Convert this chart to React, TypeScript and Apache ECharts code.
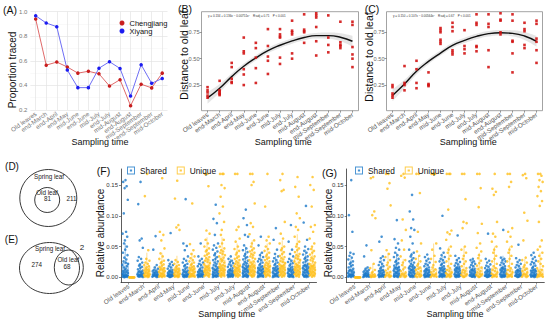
import React, { useEffect, useRef } from 'react';
import * as echarts from 'echarts';

const CATEGORIES = ['Old leaves', 'end-March', 'end-April', 'end-May', 'mid-June', 'end-June', 'mid-July', 'end-July', 'mid-August', 'end-August', 'mid-September', 'end-September', 'mid-October'];

// Panel A
const CHENGJIANG = [0.94, 0.565, 0.59, 0.55, 0.5, 0.515, 0.495, 0.395, 0.447, 0.235, 0.41, 0.38, 0.5];
const XIYANG = [0.967, 0.908, 0.878, 0.525, 0.382, 0.382, 0.54, 0.593, 0.538, 0.314, 0.569, 0.417, 0.457];

// Panel B
const DIST_B = [
  [0.23, 0.2, 0.18, 0.15, 0.13],
  [0.29, 0.2, 0.19, 0.175, 0.165, 0.155],
  [0.46, 0.42, 0.31, 0.28, 0.27],
  [0.7, 0.57, 0.55, 0.4, 0.35, 0.25],
  [0.65, 0.6, 0.51, 0.41, 0.27],
  [0.78, 0.62, 0.52, 0.48, 0.355],
  [0.78, 0.73, 0.71, 0.7, 0.51, 0.45],
  [0.86, 0.765, 0.75, 0.73, 0.55, 0.5],
  [0.92, 0.775, 0.76, 0.75, 0.65],
  [0.93, 0.91, 0.89, 0.8, 0.665, 0.53],
  [0.91, 0.7, 0.63, 0.56],
  [0.85, 0.655, 0.63, 0.62, 0.6],
  [0.85, 0.82, 0.61, 0.54, 0.5, 0.42],
];
const FIT_B = [0.128, 0.22, 0.33, 0.428, 0.507, 0.576, 0.627, 0.668, 0.7, 0.718, 0.718, 0.703, 0.665];
const BAND_B = [0.055, 0.04, 0.03, 0.026, 0.024, 0.024, 0.025, 0.026, 0.026, 0.026, 0.029, 0.037, 0.05];

// Panel C
const DIST_C = [
  [0.25, 0.23, 0.17, 0.15, 0.13],
  [0.43, 0.27, 0.25, 0.2],
  [0.48, 0.4, 0.27, 0.22],
  [0.37, 0.26, 0.25, 0.24],
  [0.79, 0.77, 0.75, 0.68, 0.66, 0.64],
  [0.84, 0.8, 0.76, 0.58, 0.56, 0.54],
  [0.77, 0.62, 0.59, 0.55],
  [0.92, 0.84, 0.82, 0.62, 0.61, 0.57],
  [0.92, 0.83, 0.8, 0.58, 0.42],
  [0.93, 0.87, 0.86, 0.75, 0.73],
  [0.92, 0.86, 0.67, 0.66, 0.55, 0.37],
  [0.84, 0.78, 0.76, 0.63, 0.6],
  [0.86, 0.83, 0.69, 0.66, 0.58, 0.46],
];
const FIT_C = [0.152, 0.26, 0.38, 0.474, 0.553, 0.626, 0.673, 0.711, 0.737, 0.746, 0.74, 0.715, 0.664];
const BAND_C = [0.055, 0.04, 0.03, 0.026, 0.024, 0.024, 0.025, 0.026, 0.026, 0.026, 0.029, 0.037, 0.05];

// Venn counts
const VENN_D = [81, 211];
const VENN_E = [274, 68, 2];

// Panel F points
const SHARED_F = [
  [0.158, 0.155, 0.148, 0.145, 0.126, 0.104, 0.074, 0.071, 0.066, 0.06, 0.055, 0.05, 0.045, 0.04, 0.036, 0.032, 0.029, 0.026, 0.024, 0.022, 0.02, 0.018, 0.016, 0.014, 0.012, 0.011, 0.01, 0.009, 0.008, 0.007, 0.006, 0.005, 0.004, 0.0035, 0.003, 0.0025, 0.002, 0.0015, 0.001, 0.0008, 0.0005, 0.0003],
  [0.155, 0.119, 0.063, 0.06, 0.048, 0.033, 0.03, 0.027, 0.024, 0.021, 0.019, 0.017, 0.015, 0.013, 0.011, 0.01, 0.009, 0.008, 0.007, 0.006, 0.005, 0.0045, 0.004, 0.0035, 0.003, 0.0025, 0.002, 0.0015, 0.001, 0.0005],
  [0.067, 0.045, 0.02, 0.016, 0.014, 0.012, 0.011, 0.01, 0.009, 0.008, 0.007, 0.006, 0.005, 0.0045, 0.004, 0.0035, 0.003, 0.0025, 0.002, 0.0015, 0.001, 0.0005],
  [0.072, 0.028, 0.025, 0.022, 0.02, 0.018, 0.016, 0.014, 0.012, 0.011, 0.01, 0.009, 0.008, 0.007, 0.006, 0.005, 0.0045, 0.004, 0.0035, 0.003, 0.0025, 0.002, 0.0015, 0.001, 0.0005],
  [0.127, 0.055, 0.051, 0.044, 0.034, 0.03, 0.027, 0.024, 0.022, 0.02, 0.018, 0.016, 0.014, 0.012, 0.011, 0.01, 0.009, 0.008, 0.007, 0.006, 0.005, 0.004, 0.0035, 0.003, 0.0025, 0.002, 0.0015, 0.001, 0.0005],
  [0.055, 0.034, 0.03, 0.027, 0.024, 0.022, 0.02, 0.018, 0.016, 0.014, 0.012, 0.011, 0.01, 0.009, 0.008, 0.007, 0.006, 0.005, 0.0045, 0.004, 0.0035, 0.003, 0.0025, 0.002, 0.0015, 0.001, 0.0005],
  [0.118, 0.095, 0.088, 0.069, 0.055, 0.052, 0.048, 0.045, 0.042, 0.039, 0.036, 0.033, 0.03, 0.028, 0.026, 0.024, 0.022, 0.02, 0.018, 0.016, 0.015, 0.014, 0.013, 0.012, 0.011, 0.01, 0.009, 0.008, 0.007, 0.006, 0.005, 0.004, 0.0035, 0.003, 0.0025, 0.002, 0.0015, 0.001, 0.0005],
  [0.034, 0.03, 0.027, 0.025, 0.023, 0.021, 0.019, 0.017, 0.015, 0.013, 0.012, 0.011, 0.01, 0.009, 0.008, 0.007, 0.006, 0.005, 0.0045, 0.004, 0.0035, 0.003, 0.0025, 0.002, 0.0015, 0.001, 0.0005],
  [0.11, 0.096, 0.085, 0.069, 0.066, 0.052, 0.047, 0.044, 0.041, 0.038, 0.035, 0.033, 0.031, 0.029, 0.027, 0.025, 0.023, 0.021, 0.019, 0.018, 0.017, 0.016, 0.015, 0.014, 0.013, 0.012, 0.011, 0.01, 0.009, 0.008, 0.007, 0.006, 0.005, 0.004, 0.003, 0.0025, 0.002, 0.0015, 0.001, 0.0005],
  [0.066, 0.052, 0.04, 0.036, 0.033, 0.03, 0.028, 0.026, 0.024, 0.022, 0.02, 0.018, 0.016, 0.015, 0.014, 0.013, 0.012, 0.011, 0.01, 0.009, 0.008, 0.007, 0.006, 0.005, 0.004, 0.003, 0.0025, 0.002, 0.0015, 0.001, 0.0005],
  [0.08, 0.061, 0.045, 0.038, 0.034, 0.031, 0.028, 0.026, 0.024, 0.022, 0.02, 0.018, 0.016, 0.015, 0.014, 0.013, 0.012, 0.011, 0.01, 0.009, 0.008, 0.007, 0.006, 0.005, 0.004, 0.003, 0.0025, 0.002, 0.0015, 0.001, 0.0005],
  [0.085, 0.058, 0.045, 0.038, 0.034, 0.03, 0.027, 0.025, 0.023, 0.021, 0.019, 0.017, 0.015, 0.014, 0.013, 0.012, 0.011, 0.01, 0.009, 0.008, 0.007, 0.006, 0.005, 0.004, 0.003, 0.0025, 0.002, 0.0015, 0.001, 0.0005],
  [0.116, 0.089, 0.061, 0.05, 0.046, 0.043, 0.04, 0.037, 0.034, 0.032, 0.03, 0.028, 0.026, 0.024, 0.022, 0.02, 0.019, 0.018, 0.017, 0.016, 0.015, 0.014, 0.013, 0.012, 0.011, 0.01, 0.009, 0.008, 0.007, 0.006, 0.005, 0.004, 0.003, 0.0025, 0.002, 0.0015, 0.001, 0.0005],
];
const UNIQUE_F = [
  [0, 0, 0, 0, 0, 0, 0, 0, 0, 0],
  [0.168, 0.132, 0.044, 0.03, 0.027, 0.024, 0.022, 0.02, 0.018, 0.016, 0.014, 0.013, 0.012, 0.011, 0.01, 0.009, 0.008, 0.007, 0.006, 0.005, 0.004, 0.0035, 0.003, 0.0025, 0.002, 0.0015, 0.001, 0.0005],
  [0.161, 0.074, 0.069, 0.06, 0.047, 0.039, 0.034, 0.03, 0.027, 0.025, 0.023, 0.021, 0.019, 0.017, 0.015, 0.014, 0.013, 0.012, 0.011, 0.01, 0.009, 0.008, 0.007, 0.006, 0.005, 0.004, 0.003, 0.0025, 0.002, 0.0015, 0.001, 0.0005],
  [0.157, 0.128, 0.085, 0.081, 0.077, 0.028, 0.025, 0.022, 0.02, 0.018, 0.016, 0.014, 0.013, 0.012, 0.011, 0.01, 0.009, 0.008, 0.007, 0.006, 0.005, 0.004, 0.003, 0.0025, 0.002, 0.0015, 0.001, 0.0005],
  [0.12, 0.054, 0.044, 0.038, 0.034, 0.031, 0.028, 0.026, 0.024, 0.022, 0.02, 0.018, 0.016, 0.015, 0.014, 0.013, 0.012, 0.011, 0.01, 0.009, 0.008, 0.007, 0.006, 0.005, 0.004, 0.003, 0.0025, 0.002, 0.0015, 0.001, 0.0005],
  [0.168, 0.168, 0.148, 0.076, 0.071, 0.061, 0.055, 0.05, 0.047, 0.044, 0.042, 0.039, 0.037, 0.035, 0.033, 0.031, 0.029, 0.027, 0.025, 0.023, 0.021, 0.019, 0.018, 0.017, 0.016, 0.015, 0.014, 0.013, 0.012, 0.011, 0.01, 0.009, 0.008, 0.007, 0.006, 0.005, 0.004, 0.003, 0.002, 0.001],
  [0.168, 0.168, 0.168, 0.15, 0.145, 0.131, 0.115, 0.104, 0.09, 0.077, 0.069, 0.061, 0.055, 0.05, 0.047, 0.044, 0.042, 0.04, 0.038, 0.036, 0.034, 0.032, 0.03, 0.028, 0.026, 0.024, 0.022, 0.02, 0.019, 0.018, 0.017, 0.016, 0.015, 0.014, 0.013, 0.012, 0.011, 0.01, 0.009, 0.008, 0.007, 0.006, 0.005, 0.004, 0.003, 0.002, 0.001],
  [0.168, 0.168, 0.082, 0.077, 0.063, 0.058, 0.05, 0.046, 0.043, 0.04, 0.037, 0.034, 0.032, 0.03, 0.028, 0.026, 0.024, 0.022, 0.02, 0.019, 0.018, 0.017, 0.016, 0.015, 0.014, 0.013, 0.012, 0.011, 0.01, 0.009, 0.008, 0.007, 0.006, 0.005, 0.004, 0.003, 0.002, 0.001],
  [0.168, 0.168, 0.155, 0.15, 0.12, 0.088, 0.082, 0.07, 0.06, 0.055, 0.05, 0.047, 0.044, 0.042, 0.04, 0.038, 0.036, 0.034, 0.032, 0.03, 0.028, 0.026, 0.024, 0.022, 0.02, 0.019, 0.018, 0.017, 0.016, 0.015, 0.014, 0.013, 0.012, 0.011, 0.01, 0.009, 0.008, 0.007, 0.006, 0.005, 0.004, 0.003, 0.002, 0.001],
  [0.168, 0.115, 0.066, 0.06, 0.055, 0.05, 0.046, 0.043, 0.04, 0.037, 0.034, 0.032, 0.03, 0.028, 0.026, 0.024, 0.022, 0.02, 0.019, 0.018, 0.017, 0.016, 0.015, 0.014, 0.013, 0.012, 0.011, 0.01, 0.009, 0.008, 0.007, 0.006, 0.005, 0.004, 0.003, 0.002, 0.001],
  [0.168, 0.158, 0.142, 0.14, 0.09, 0.071, 0.063, 0.055, 0.05, 0.047, 0.044, 0.041, 0.038, 0.035, 0.033, 0.031, 0.029, 0.027, 0.025, 0.023, 0.021, 0.02, 0.019, 0.018, 0.017, 0.016, 0.015, 0.014, 0.013, 0.012, 0.011, 0.01, 0.009, 0.008, 0.007, 0.006, 0.005, 0.004, 0.003, 0.002, 0.001],
  [0.163, 0.147, 0.131, 0.104, 0.096, 0.082, 0.077, 0.066, 0.058, 0.054, 0.05, 0.047, 0.044, 0.041, 0.038, 0.036, 0.034, 0.032, 0.03, 0.028, 0.026, 0.024, 0.022, 0.02, 0.019, 0.018, 0.017, 0.016, 0.015, 0.014, 0.013, 0.012, 0.011, 0.01, 0.009, 0.008, 0.007, 0.006, 0.005, 0.004, 0.003, 0.002, 0.001],
  [0.163, 0.15, 0.142, 0.115, 0.085, 0.082, 0.074, 0.063, 0.055, 0.05, 0.046, 0.043, 0.04, 0.037, 0.034, 0.032, 0.03, 0.028, 0.026, 0.024, 0.022, 0.02, 0.019, 0.018, 0.017, 0.016, 0.015, 0.014, 0.013, 0.012, 0.011, 0.01, 0.009, 0.008, 0.007, 0.006, 0.005, 0.004, 0.003, 0.002, 0.001],
];

// Panel F boxes: [lower whisker, Q1, median, Q3, upper whisker]
const BOX_SHARED_F = [
  [0, 0.002, 0.007, 0.023, 0.055], [0, 0.001, 0.004, 0.009, 0.022], [0, 0.001, 0.003, 0.008, 0.018],
  [0, 0.001, 0.004, 0.009, 0.022], [0, 0.001, 0.004, 0.009, 0.022], [0, 0.001, 0.004, 0.01, 0.024],
  [0, 0.002, 0.007, 0.017, 0.04], [0, 0.001, 0.005, 0.012, 0.03], [0, 0.002, 0.009, 0.022, 0.05],
  [0, 0.002, 0.007, 0.017, 0.04], [0, 0.002, 0.006, 0.015, 0.035], [0, 0.001, 0.005, 0.013, 0.03],
  [0, 0.002, 0.008, 0.02, 0.045],
];
const BOX_UNIQUE_F = [
  [0, 0, 0, 0, 0], [0, 0.002, 0.006, 0.017, 0.04], [0, 0.002, 0.006, 0.016, 0.04],
  [0, 0.002, 0.005, 0.015, 0.035], [0, 0.002, 0.006, 0.017, 0.04], [0, 0.003, 0.011, 0.028, 0.065],
  [0, 0.003, 0.011, 0.028, 0.065], [0, 0.003, 0.009, 0.023, 0.055], [0, 0.003, 0.01, 0.025, 0.06],
  [0, 0.003, 0.009, 0.023, 0.055], [0, 0.003, 0.01, 0.025, 0.06], [0, 0.004, 0.012, 0.03, 0.07],
  [0, 0.003, 0.009, 0.022, 0.05],
];

// Panel G points
const SHARED_G = [
  [0.158, 0.101, 0.074, 0.04, 0.038, 0.035, 0.032, 0.029, 0.026, 0.024, 0.022, 0.02, 0.018, 0.016, 0.014, 0.012, 0.011, 0.01, 0.009, 0.008, 0.007, 0.006, 0.005, 0.0045, 0.004, 0.0035, 0.003, 0.0025, 0.002, 0.0015, 0.001, 0.0005],
  [0.052, 0.034, 0.016, 0.014, 0.012, 0.011, 0.01, 0.009, 0.008, 0.007, 0.006, 0.005, 0.0045, 0.004, 0.0035, 0.003, 0.0025, 0.002, 0.0015, 0.001, 0.0005],
  [0.066, 0.058, 0.034, 0.031, 0.028, 0.025, 0.022, 0.02, 0.018, 0.016, 0.014, 0.012, 0.011, 0.01, 0.009, 0.008, 0.007, 0.006, 0.005, 0.004, 0.0035, 0.003, 0.0025, 0.002, 0.0015, 0.001, 0.0005],
  [0.093, 0.062, 0.055, 0.048, 0.045, 0.04, 0.036, 0.033, 0.03, 0.027, 0.025, 0.023, 0.021, 0.019, 0.017, 0.016, 0.015, 0.014, 0.013, 0.012, 0.011, 0.01, 0.009, 0.008, 0.007, 0.006, 0.005, 0.004, 0.003, 0.0025, 0.002, 0.0015, 0.001, 0.0005],
  [0.134, 0.107, 0.094, 0.08, 0.077, 0.066, 0.055, 0.045, 0.04, 0.037, 0.034, 0.031, 0.028, 0.026, 0.024, 0.022, 0.02, 0.018, 0.017, 0.016, 0.015, 0.014, 0.013, 0.012, 0.011, 0.01, 0.009, 0.008, 0.007, 0.006, 0.005, 0.004, 0.003, 0.0025, 0.002, 0.0015, 0.001, 0.0005],
  [0.037, 0.033, 0.03, 0.027, 0.024, 0.022, 0.02, 0.018, 0.016, 0.014, 0.013, 0.012, 0.011, 0.01, 0.009, 0.008, 0.007, 0.006, 0.005, 0.004, 0.0035, 0.003, 0.0025, 0.002, 0.0015, 0.001, 0.0005],
  [0.1, 0.047, 0.04, 0.036, 0.033, 0.03, 0.028, 0.026, 0.024, 0.022, 0.02, 0.018, 0.016, 0.015, 0.014, 0.013, 0.012, 0.011, 0.01, 0.009, 0.008, 0.007, 0.006, 0.005, 0.004, 0.0035, 0.003, 0.0025, 0.002, 0.0015, 0.001, 0.0005],
  [0.068, 0.035, 0.031, 0.028, 0.025, 0.023, 0.021, 0.019, 0.017, 0.016, 0.015, 0.014, 0.013, 0.012, 0.011, 0.01, 0.009, 0.008, 0.007, 0.006, 0.005, 0.004, 0.0035, 0.003, 0.0025, 0.002, 0.0015, 0.001, 0.0005],
  [0.03, 0.028, 0.026, 0.024, 0.022, 0.02, 0.018, 0.016, 0.014, 0.013, 0.012, 0.011, 0.01, 0.009, 0.008, 0.007, 0.006, 0.005, 0.004, 0.0035, 0.003, 0.0025, 0.002, 0.0015, 0.001, 0.0005],
  [0.071, 0.03, 0.027, 0.024, 0.021, 0.019, 0.017, 0.015, 0.013, 0.012, 0.011, 0.01, 0.009, 0.008, 0.007, 0.006, 0.005, 0.004, 0.0035, 0.003, 0.0025, 0.002, 0.0015, 0.001, 0.0005],
  [0.077, 0.032, 0.03, 0.028, 0.026, 0.024, 0.022, 0.02, 0.018, 0.016, 0.015, 0.014, 0.013, 0.012, 0.011, 0.01, 0.009, 0.008, 0.007, 0.006, 0.005, 0.004, 0.0035, 0.003, 0.0025, 0.002, 0.0015, 0.001, 0.0005],
  [0.053, 0.031, 0.028, 0.025, 0.022, 0.02, 0.018, 0.016, 0.014, 0.012, 0.011, 0.01, 0.009, 0.008, 0.007, 0.006, 0.005, 0.004, 0.0035, 0.003, 0.0025, 0.002, 0.0015, 0.001, 0.0005],
  [0.04, 0.036, 0.033, 0.03, 0.027, 0.025, 0.023, 0.021, 0.019, 0.017, 0.015, 0.013, 0.012, 0.011, 0.01, 0.009, 0.008, 0.007, 0.006, 0.005, 0.004, 0.0035, 0.003, 0.0025, 0.002, 0.0015, 0.001, 0.0005],
];
const UNIQUE_G = [
  [0, 0, 0, 0, 0, 0, 0, 0, 0, 0],
  [0.163, 0.161, 0.107, 0.101, 0.096, 0.044, 0.022, 0.015, 0.012, 0.009, 0.007, 0.005, 0.004, 0.003, 0.002, 0.0015, 0.001, 0.0005],
  [0.168, 0.168, 0.153, 0.144, 0.117, 0.044, 0.038, 0.033, 0.028, 0.024, 0.02, 0.017, 0.014, 0.011, 0.009, 0.007, 0.005, 0.004, 0.003, 0.002, 0.001, 0.0005],
  [0.168, 0.165, 0.162, 0.094, 0.077, 0.06, 0.045, 0.034, 0.028, 0.024, 0.02, 0.016, 0.013, 0.01, 0.008, 0.006, 0.005, 0.004, 0.003, 0.002, 0.001, 0.0005],
  [0.168, 0.168, 0.137, 0.074, 0.055, 0.042, 0.035, 0.03, 0.026, 0.022, 0.019, 0.016, 0.014, 0.012, 0.01, 0.008, 0.006, 0.005, 0.004, 0.003, 0.002, 0.001, 0.0005],
  [0.168, 0.168, 0.168, 0.168, 0.055, 0.045, 0.035, 0.03, 0.025, 0.02, 0.016, 0.013, 0.01, 0.008, 0.006, 0.005, 0.004, 0.003, 0.002, 0.001, 0.0005],
  [0.168, 0.168, 0.168, 0.11, 0.076, 0.073, 0.07, 0.061, 0.05, 0.045, 0.04, 0.035, 0.03, 0.026, 0.022, 0.018, 0.015, 0.012, 0.01, 0.008, 0.007, 0.006, 0.005, 0.004, 0.003, 0.002, 0.001, 0.0005],
  [0.168, 0.168, 0.127, 0.09, 0.088, 0.08, 0.05, 0.045, 0.04, 0.035, 0.03, 0.026, 0.022, 0.018, 0.015, 0.012, 0.01, 0.008, 0.007, 0.005, 0.004, 0.003, 0.002, 0.001, 0.0005],
  [0.168, 0.168, 0.145, 0.114, 0.087, 0.072, 0.055, 0.048, 0.042, 0.036, 0.031, 0.027, 0.023, 0.019, 0.016, 0.013, 0.01, 0.008, 0.006, 0.005, 0.004, 0.003, 0.002, 0.001, 0.0005],
  [0.168, 0.144, 0.139, 0.134, 0.09, 0.071, 0.066, 0.058, 0.05, 0.045, 0.04, 0.035, 0.03, 0.026, 0.022, 0.018, 0.015, 0.012, 0.01, 0.008, 0.006, 0.005, 0.004, 0.003, 0.002, 0.001, 0.0005],
  [0.168, 0.168, 0.155, 0.147, 0.08, 0.074, 0.066, 0.058, 0.05, 0.045, 0.04, 0.035, 0.03, 0.026, 0.022, 0.018, 0.015, 0.012, 0.01, 0.008, 0.006, 0.005, 0.004, 0.003, 0.002, 0.001, 0.0005],
  [0.168, 0.166, 0.161, 0.105, 0.092, 0.06, 0.032, 0.028, 0.024, 0.02, 0.017, 0.014, 0.012, 0.01, 0.008, 0.006, 0.005, 0.004, 0.003, 0.002, 0.001, 0.0005],
  [0.168, 0.168, 0.165, 0.158, 0.155, 0.147, 0.14, 0.132, 0.124, 0.116, 0.09, 0.06, 0.05, 0.045, 0.04, 0.035, 0.03, 0.026, 0.022, 0.018, 0.015, 0.012, 0.01, 0.008, 0.006, 0.005, 0.004, 0.003, 0.002, 0.001, 0.0005],
];

// Panel G boxes: [lower whisker, Q1, median, Q3, upper whisker]
const BOX_SHARED_G = [
  [0, 0.001, 0.004, 0.012, 0.03], [0, 0.0005, 0.002, 0.0065, 0.016], [0, 0.001, 0.004, 0.011, 0.028],
  [0, 0.002, 0.006, 0.016, 0.04], [0, 0.002, 0.007, 0.018, 0.04], [0, 0.001, 0.004, 0.012, 0.028],
  [0, 0.001, 0.005, 0.015, 0.035], [0, 0.001, 0.005, 0.015, 0.03], [0, 0.001, 0.004, 0.012, 0.028],
  [0, 0.001, 0.003, 0.009, 0.02], [0, 0.001, 0.005, 0.015, 0.035], [0, 0.001, 0.004, 0.011, 0.025],
  [0, 0.001, 0.004, 0.011, 0.025],
];
const BOX_UNIQUE_G = [
  [0, 0, 0, 0, 0], [0, 0.0005, 0.0015, 0.004, 0.022], [0, 0.001, 0.003, 0.008, 0.04],
  [0, 0.0005, 0.002, 0.0065, 0.03], [0, 0.001, 0.005, 0.015, 0.035], [0, 0.001, 0.004, 0.013, 0.055],
  [0, 0.001, 0.004, 0.013, 0.05], [0, 0.001, 0.004, 0.012, 0.05], [0, 0.001, 0.005, 0.015, 0.04],
  [0, 0.001, 0.005, 0.015, 0.05], [0, 0.001, 0.004, 0.013, 0.05], [0, 0.001, 0.005, 0.015, 0.03],
  [0, 0.001, 0.004, 0.013, 0.04],
];

// fixed (non-random) jitter pattern, in units of half jitter width
const JITTER = [0.1, -0.7, 0.5, -0.2, 0.9, -0.5, 0.3, -0.9, 0.7, -0.1, -0.4, 0.6, 0.0, -0.8, 0.8, -0.3, 0.4, -0.6, 0.2, 1.0, -1.0, 0.55, -0.45, 0.15, -0.15, 0.75, -0.75, 0.35, -0.35, 0.95, -0.95];
const JIT_AMP = 0.19;
const DODGE = 0.22;

const FONT = '"Liberation Sans", Arial, Helvetica, sans-serif';
const RED_PT = '#d21414';
const BLUE_SH = '#1a78c8';
const YEL_UN = '#ffbf1a';

function jitterData(groups: number[][], offset: number) {
  const out: number[][] = [];
  groups.forEach((vals, k) => vals.forEach((v, i) => out.push([k + offset + JITTER[i % JITTER.length] * JIT_AMP, v])));
  return out;
}
function boxData(stats: number[][], offset: number) {
  return stats.map((s, k) => [k + offset, ...s]);
}
function catScatter(groups: number[][]) {
  const out: number[][] = [];
  groups.forEach((vals, k) => vals.forEach((v) => out.push([k, v])));
  return out;
}

const LEGEND_ICON = 'path://M0,0H10V10H0Z M1.2,1.2V8.8H8.8V1.2Z M3.6,3.6H6.4V6.4H3.6Z';

function boxSeries(name: string, data: number[][], xi: number, yi: number, stroke: string, fill: string) {
  return {
    type: 'custom',
    name,
    xAxisIndex: xi,
    yAxisIndex: yi,
    data,
    z: 1,
    itemStyle: { color: stroke },
    encode: { x: 0, y: [1, 2, 3, 4, 5] },
    renderItem: (params: any, api: any) => {
      const x = api.value(0);
      const lo = api.coord([x, api.value(1)]);
      const q1 = api.coord([x, api.value(2)]);
      const md = api.coord([x, api.value(3)]);
      const q3 = api.coord([x, api.value(4)]);
      const hi = api.coord([x, api.value(5)]);
      const w = 6;
      const ls = { stroke, lineWidth: 0.7 };
      return {
        type: 'group',
        children: [
          { type: 'line', shape: { x1: hi[0], y1: hi[1], x2: q3[0], y2: q3[1] }, style: ls },
          { type: 'line', shape: { x1: lo[0], y1: lo[1], x2: q1[0], y2: q1[1] }, style: ls },
          { type: 'rect', shape: { x: q3[0] - w / 2, y: q3[1], width: w, height: Math.max(q1[1] - q3[1], 0.5) }, style: { fill, stroke, lineWidth: 0.7 } },
          { type: 'line', shape: { x1: md[0] - w / 2, y1: md[1], x2: md[0] + w / 2, y2: md[1] }, style: ls },
        ],
      };
    },
  };
}

function bandSeries(fit: number[], band: number[], xi: number, yi: number, stack: string) {
  return [
    {
      type: 'line', xAxisIndex: xi, yAxisIndex: yi, stack, data: fit.map((v, i) => v - band[i]),
      symbol: 'none', smooth: true, lineStyle: { opacity: 0 }, silent: true, z: 1,
    },
    {
      type: 'line', xAxisIndex: xi, yAxisIndex: yi, stack, data: band.map((b) => 2 * b),
      symbol: 'none', smooth: true, lineStyle: { opacity: 0 }, areaStyle: { color: 'rgba(150,150,150,0.35)' }, silent: true, z: 1,
    },
    {
      type: 'line', xAxisIndex: xi, yAxisIndex: yi, data: fit, symbol: 'none', smooth: true,
      lineStyle: { color: '#111', width: 1.4 }, z: 3,
    },
  ];
}

function catAxis(gridIndex: number, color: string, axisLineShow: boolean) {
  return {
    type: 'category', gridIndex, data: CATEGORIES, boundaryGap: true,
    axisLine: { show: axisLineShow, onZero: false, lineStyle: { color: '#333', width: 0.8 } },
    axisTick: { show: true, alignWithLabel: true, length: 2, lineStyle: { color: '#555', width: 0.6 } },
    axisLabel: { interval: 0, rotate: 35, fontSize: 6.3, color, margin: 3, fontFamily: FONT },
    splitLine: { show: false },
  };
}

function textEl(text: string, x: number, y: number, fontSize: number, opts: any = {}) {
  return {
    type: 'text', x, y, rotation: opts.rotation || 0, silent: true,
    style: {
      text, fontSize, fontFamily: FONT, fill: opts.fill || '#111',
      align: opts.align || 'center', verticalAlign: opts.verticalAlign || 'middle',
    },
  };
}

function smallValAxis(gridIndex: number) {
  return {
    type: 'value', gridIndex, min: 0.007, max: 0.945,
    axisLine: { show: false, onZero: false },
    splitLine: { show: false },
    axisTick: { show: true, length: 2, customValues: [0.25, 0.5, 0.75], lineStyle: { color: '#555', width: 0.6 } },
    axisLabel: { customValues: [0.25, 0.5, 0.75], fontSize: 5.6, color: '#666', margin: 2, formatter: (v: number) => v.toFixed(2) },
  };
}
function abundAxis(gridIndex: number) {
  return {
    type: 'value', gridIndex, min: -0.0084, max: 0.176,
    axisLine: { show: true, onZero: false, lineStyle: { color: '#333', width: 0.8 } },
    splitLine: { show: false },
    axisTick: { show: true, length: 2, customValues: [0, 0.05, 0.1, 0.15], lineStyle: { color: '#333', width: 0.6 } },
    axisLabel: { customValues: [0, 0.05, 0.1, 0.15], fontSize: 6, color: '#333', margin: 3, formatter: (v: number) => v.toFixed(2) },
  };
}

export default function App() {
  const ref = useRef<HTMLDivElement>(null);
  useEffect(() => {
    if (!ref.current) return;
    const chart = echarts.init(ref.current, null, { renderer: 'svg' });
    const option: any = {
      animation: false,
      backgroundColor: '#fff',
      textStyle: { fontFamily: FONT },
      grid: [
        { left: 30.4, top: 11.7, width: 137.1, height: 98.3 },
        { left: 201.5, top: 11.7, width: 157, height: 99, show: true, borderColor: '#8c8c8c', borderWidth: 0.8, backgroundColor: 'transparent' },
        { left: 386.5, top: 11.7, width: 156, height: 99, show: true, borderColor: '#8c8c8c', borderWidth: 0.8, backgroundColor: 'transparent' },
        { left: 121, top: 169, width: 195.5, height: 113.5 },
        { left: 346.7, top: 169, width: 197.6, height: 113.5 },
      ],
      legend: [
        {
          left: 114.5, top: 14, orient: 'vertical', itemWidth: 5, itemHeight: 5, itemGap: 0, icon: 'circle',
          selectedMode: false, data: ['Chengjiang', 'Xiyang'],
          textStyle: { fontSize: 7.5, color: '#111', fontFamily: FONT },
        },
        {
          left: 122, top: 161.5, itemWidth: 8, itemHeight: 8, itemGap: 10, icon: LEGEND_ICON,
          selectedMode: false, data: ['Shared', 'Unique'],
          textStyle: { fontSize: 8.3, color: '#111', fontFamily: FONT },
        },
        {
          left: 350, top: 161.5, itemWidth: 8, itemHeight: 8, itemGap: 10, icon: LEGEND_ICON,
          selectedMode: false, data: ['Shared', 'Unique'],
          textStyle: { fontSize: 8.3, color: '#111', fontFamily: FONT },
        },
      ],
      xAxis: [
        { ...catAxis(0, '#777', false), axisTick: { show: false } },
        {
          type: 'value', gridIndex: 0, min: 0, max: 13, interval: 1,
          axisLine: { show: false }, axisTick: { show: false }, axisLabel: { show: false },
          splitLine: { show: false },
          minorTick: { show: false, splitNumber: 2 },
          minorSplitLine: { show: true, lineStyle: { color: '#e4e4e4', width: 0.7 } },
        },
        catAxis(1, '#555', false),
        catAxis(2, '#555', false),
        catAxis(3, '#555', true),
        { type: 'value', gridIndex: 3, min: -0.5, max: 12.5, show: false },
        catAxis(4, '#555', true),
        { type: 'value', gridIndex: 4, min: -0.5, max: 12.5, show: false },
      ],
      yAxis: [
        {
          type: 'value', gridIndex: 0, min: 0.2, max: 1.0, interval: 0.2,
          axisLine: { show: false }, axisTick: { show: false },
          axisLabel: { fontSize: 6, color: '#777', margin: 3, formatter: (v: number) => v.toFixed(1) },
          splitLine: { show: true, lineStyle: { color: '#e4e4e4', width: 0.7 } },
          minorTick: { show: false, splitNumber: 2 },
          minorSplitLine: { show: true, lineStyle: { color: '#f2f2f2', width: 0.5 } },
        },
        smallValAxis(1),
        smallValAxis(2),
        abundAxis(3),
        abundAxis(4),
      ],
      series: [
        // A
        {
          type: 'line', name: 'Chengjiang', xAxisIndex: 0, yAxisIndex: 0, data: CHENGJIANG,
          symbol: 'circle', symbolSize: 3.5, itemStyle: { color: '#c81e1e' }, lineStyle: { color: '#e06a6a', width: 1 }, z: 3,
        },
        {
          type: 'line', name: 'Xiyang', xAxisIndex: 0, yAxisIndex: 0, data: XIYANG,
          symbol: 'circle', symbolSize: 3.5, itemStyle: { color: '#1c1cf0' }, lineStyle: { color: '#6f6ff5', width: 1 }, z: 3,
        },
        // B
        ...bandSeries(FIT_B, BAND_B, 2, 1, 'bandB'),
        {
          type: 'scatter', xAxisIndex: 2, yAxisIndex: 1, data: catScatter(DIST_B), symbol: 'rect', symbolSize: 2.6,
          itemStyle: { color: RED_PT, opacity: 0.9 }, z: 4,
        },
        // C
        ...bandSeries(FIT_C, BAND_C, 3, 2, 'bandC'),
        {
          type: 'scatter', xAxisIndex: 3, yAxisIndex: 2, data: catScatter(DIST_C), symbol: 'rect', symbolSize: 2.6,
          itemStyle: { color: RED_PT, opacity: 0.9 }, z: 4,
        },
        // F
        {
          type: 'scatter', name: 'Shared', xAxisIndex: 5, yAxisIndex: 3, data: jitterData(SHARED_F, -DODGE),
          symbolSize: 2.6, itemStyle: { color: BLUE_SH }, z: 3,
        },
        {
          type: 'scatter', name: 'Unique', xAxisIndex: 5, yAxisIndex: 3, data: jitterData(UNIQUE_F, DODGE),
          symbolSize: 2.6, itemStyle: { color: YEL_UN }, z: 3,
        },
        boxSeries('Shared', boxData(BOX_SHARED_F, -DODGE), 5, 3, '#5aa2de', 'rgba(90,162,222,0.22)'),
        boxSeries('Unique', boxData(BOX_UNIQUE_F, DODGE), 5, 3, '#ffd061', 'rgba(255,208,97,0.22)'),
        // G
        {
          type: 'scatter', name: 'Shared', xAxisIndex: 7, yAxisIndex: 4, data: jitterData(SHARED_G, -DODGE),
          symbolSize: 2.6, itemStyle: { color: BLUE_SH }, z: 3,
        },
        {
          type: 'scatter', name: 'Unique', xAxisIndex: 7, yAxisIndex: 4, data: jitterData(UNIQUE_G, DODGE),
          symbolSize: 2.6, itemStyle: { color: YEL_UN }, z: 3,
        },
        boxSeries('Shared', boxData(BOX_SHARED_G, -DODGE), 7, 4, '#5aa2de', 'rgba(90,162,222,0.22)'),
        boxSeries('Unique', boxData(BOX_UNIQUE_G, DODGE), 7, 4, '#ffd061', 'rgba(255,208,97,0.22)'),
      ],
      graphic: {
        elements: [
          // panel letters
          textEl('(A)', 10, 9.5, 10.5),
          textEl('(B)', 185, 9, 10.5),
          textEl('(C)', 372, 9, 10.5),
          textEl('(D)', 12, 166.5, 10),
          textEl('(E)', 11.5, 239.5, 10),
          textEl('(F)', 103.5, 171, 10.5),
          textEl('(G)', 329.5, 173, 10.5),
          // axis titles
          textEl('Sampling time', 100, 142, 9),
          textEl('Proportion traced', 12, 70, 10, { rotation: Math.PI / 2 }),
          textEl('Sampling time', 283.3, 141.7, 9),
          textEl('Distance to old leaf', 184.3, 55, 10.5, { rotation: Math.PI / 2 }),
          textEl('Sampling time', 468.3, 141.7, 9),
          textEl('Distance to old leaf', 369.3, 57, 10.5, { rotation: Math.PI / 2 }),
          textEl('Sampling time', 226.7, 314, 9),
          textEl('Relative abundance', 100.8, 233, 10, { rotation: Math.PI / 2 }),
          textEl('Sampling time', 455, 314, 9),
          textEl('Relative abundance', 328, 233, 10, { rotation: Math.PI / 2 }),
          // equations
          textEl('y = 0.134 + 0.136x \u2212 0.00751x\u00b2    R\u00b2adj = 0.71    P < 0.001', 208, 15.5, 3, { align: 'left', fill: '#333' }),
          textEl('y = 0.150 + 0.107x \u2212 0.00564x\u00b2    R\u00b2adj = 0.67    P < 0.001', 393, 15.5, 3, { align: 'left', fill: '#333' }),
          // Venn D
          { type: 'circle', shape: { cx: 48.3, cy: 198, r: 28.5 }, style: { fill: 'none', stroke: '#222', lineWidth: 0.9 }, silent: true },
          { type: 'circle', shape: { cx: 47.2, cy: 200, r: 12.5 }, style: { fill: 'none', stroke: '#222', lineWidth: 0.9 }, silent: true },
          textEl('Spring leaf', 49, 176, 6.3, { fill: '#222' }),
          textEl('Old leaf', 47, 192, 6.3, { fill: '#222' }),
          textEl(String(VENN_D[0]), 47.5, 198.5, 6.3, { fill: '#222' }),
          textEl(String(VENN_D[1]), 71.5, 198.5, 6.3, { fill: '#222' }),
          // Venn E
          { type: 'ellipse', shape: { cx: 49.5, cy: 268, rx: 30, ry: 25.5 }, style: { fill: 'none', stroke: '#222', lineWidth: 0.9 }, silent: true },
          { type: 'ellipse', shape: { cx: 68.8, cy: 267.5, rx: 14.5, ry: 17.5 }, style: { fill: 'none', stroke: '#222', lineWidth: 0.9 }, silent: true },
          textEl('Spring leaf', 50, 248.5, 6.3, { fill: '#222' }),
          textEl(String(VENN_E[0]), 36.7, 264, 6.3, { fill: '#222' }),
          textEl('Old leaf', 68.3, 259.5, 6.3, { fill: '#222' }),
          textEl(String(VENN_E[1]), 67, 266.5, 6.3, { fill: '#222' }),
          textEl(String(VENN_E[2]), 82, 247.5, 8, { fill: '#222' }),
        ],
      },
    };
    chart.setOption(option);
    return () => chart.dispose();
  }, []);
  return <div ref={ref} style={{ position: 'fixed', left: 0, top: 0, width: 550, height: 322 }} />;
}
